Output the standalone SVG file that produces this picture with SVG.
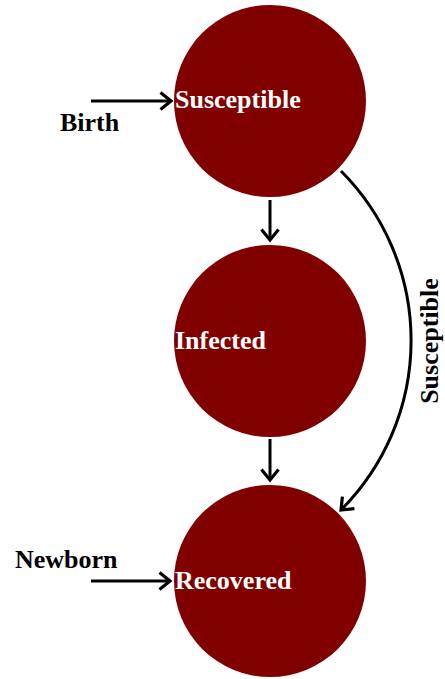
<svg xmlns="http://www.w3.org/2000/svg" width="445" height="679" viewBox="0 0 445 679">
<style>
.node{fill:#800000}
.nl{font-family:"Liberation Serif","Times New Roman",serif;font-weight:bold;font-size:26px;fill:#ffffff}
.lb{font-family:"Liberation Serif","Times New Roman",serif;font-weight:bold;font-size:26px;fill:#000000}
.edge{fill:none;stroke:#000;stroke-width:3;marker-end:url(#ah)}
</style>
<defs>
<marker id="ah" markerUnits="userSpaceOnUse" markerWidth="24" markerHeight="24" refX="12" refY="12" orient="auto" viewBox="0 0 24 24">
<path d="M1.5,3.5 L12,12 L1.5,20.5" fill="none" stroke="#000" stroke-width="3.2"/>
</marker>
</defs>
<rect width="445" height="679" fill="#fff"/>
<g id="connectors">
<line class="edge" x1="91" y1="101" x2="171" y2="101"/>
<line class="edge" x1="270" y1="200" x2="270" y2="240"/>
<line class="edge" x1="270" y1="439" x2="270" y2="480"/>
<line class="edge" x1="91" y1="581" x2="170" y2="581"/>
<path class="edge" d="M341,171 A240,240 0 0 1 341,510"/>
<text class="lb" transform="translate(438,341) rotate(-90)" text-anchor="middle">Susceptible</text>
<text class="lb" x="60" y="131">Birth</text>
<text class="lb" x="15" y="568">Newborn</text>
</g>
<g id="susceptible">
<circle class="node" cx="270" cy="101" r="96"/>
<text class="nl" x="175" y="108">Susceptible</text>
</g>
<g id="infected">
<circle class="node" cx="270" cy="341" r="96"/>
<text class="nl" x="175" y="349">Infected</text>
</g>
<g id="recovered">
<circle class="node" cx="270" cy="581" r="96"/>
<text class="nl" x="175" y="589">Recovered</text>
</g>
</svg>
